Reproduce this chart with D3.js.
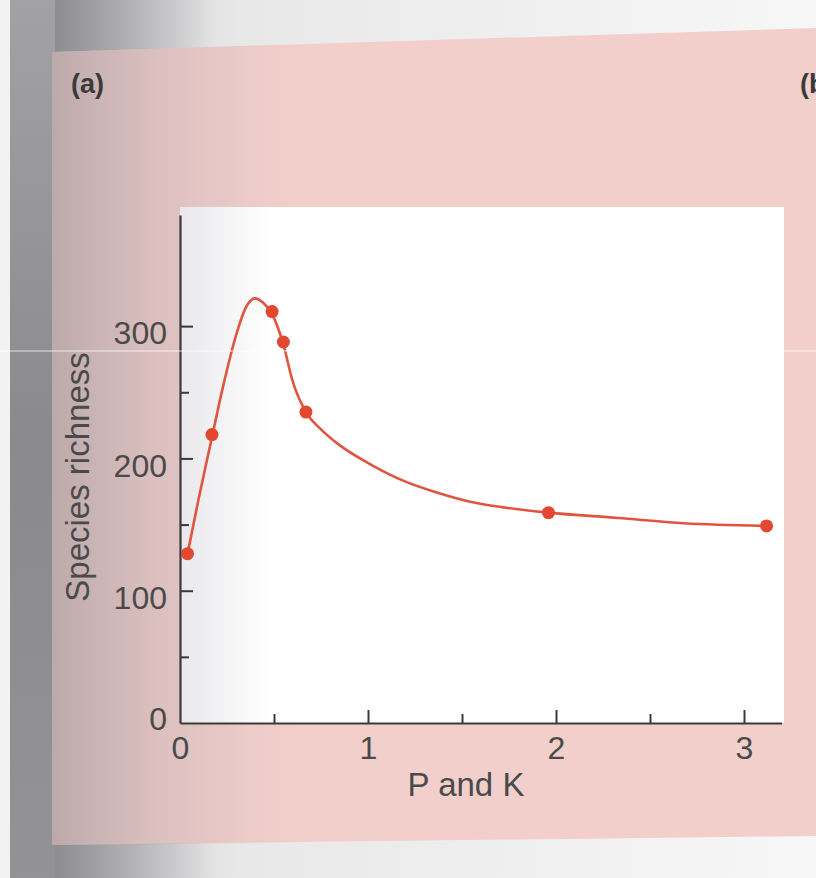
<!DOCTYPE html>
<html>
<head>
<meta charset="utf-8">
<script src="https://cdn.jsdelivr.net/npm/d3@7"></script>
<style>
  html, body { margin: 0; padding: 0; background: #ececec; }
  svg { display: block; }
  text { font-family: "Liberation Sans", Arial, Helvetica, sans-serif; }
</style>
</head>
<body>
<svg id="chart" width="816" height="878"></svg>
<script>
// Observed species richness against added P and K
const obsPK = [0.04, 0.17, 0.49, 0.55, 0.67, 1.96, 3.12];
const obsRichness = [128, 218, 311, 288, 235, 159, 149];

// Fitted response curve
const fitPK = [0.04, 0.10, 0.17, 0.23, 0.30, 0.35, 0.40, 0.44, 0.49, 0.55, 0.60, 0.67, 0.75, 0.84, 1.02, 1.19, 1.37, 1.55, 1.72, 1.96, 2.33, 2.68, 3.12];
const fitRichness = [128, 170, 216, 255, 294, 314, 321, 318, 309, 286, 258, 235, 222, 211, 195, 183, 174, 167, 163, 159, 155, 151, 149];

// Axis ticks
const xMajorTicks = [0, 1, 2, 3];
const xMinorTicks = [0.5, 1.5, 2.5];
const yMajorTicks = [0, 100, 200, 300];
const yMinorTicks = [50, 150, 250];

const svg = d3.select("#chart");
const W = 816, H = 878;

const defs = svg.append("defs");

// light surround outside the printed page
const bgGrad = defs.append("linearGradient").attr("id", "bgGrad")
  .attr("x1", 0).attr("y1", 0).attr("x2", 1).attr("y2", 0);
bgGrad.append("stop").attr("offset", "0%").attr("stop-color", "#c9c9cb");
bgGrad.append("stop").attr("offset", "30%").attr("stop-color", "#e8e8e9");
bgGrad.append("stop").attr("offset", "100%").attr("stop-color", "#f7f7f7");
svg.append("rect").attr("width", W).attr("height", H).attr("fill", "url(#bgGrad)");
svg.append("rect").attr("x", 0).attr("y", 0).attr("width", 10).attr("height", H).attr("fill", "#f2f2f2");

// dark binding band on the left
const bandGrad = defs.append("linearGradient").attr("id", "bandGrad")
  .attr("x1", 0).attr("y1", 0).attr("x2", 0).attr("y2", 1);
bandGrad.append("stop").attr("offset", "0%").attr("stop-color", "#a2a2a4");
bandGrad.append("stop").attr("offset", "50%").attr("stop-color", "#8a8a8d");
bandGrad.append("stop").attr("offset", "100%").attr("stop-color", "#939395");
svg.append("rect").attr("x", 10).attr("y", 0).attr("width", 45).attr("height", H)
  .attr("fill", "url(#bandGrad)");
const bandFade = defs.append("linearGradient").attr("id", "bandFade")
  .attr("x1", 0).attr("y1", 0).attr("x2", 1).attr("y2", 0);
bandFade.append("stop").attr("offset", "0%").attr("stop-color", "#8e8e91").attr("stop-opacity", 1);
bandFade.append("stop").attr("offset", "100%").attr("stop-color", "#8e8e91").attr("stop-opacity", 0);
svg.append("rect").attr("x", 55).attr("y", 0).attr("width", 160).attr("height", H)
  .attr("fill", "url(#bandFade)");

// pink page
svg.append("polygon")
  .attr("points", "52,52 816,28 816,836 52,845")
  .attr("fill", "#f3cfcb");

// shading of the page towards the binding
const shade = defs.append("linearGradient").attr("id", "shade")
  .attr("gradientUnits", "userSpaceOnUse")
  .attr("x1", 52).attr("y1", 0).attr("x2", 300).attr("y2", 0);
shade.append("stop").attr("offset", "0%").attr("stop-color", "#8f8a90").attr("stop-opacity", 0.55);
shade.append("stop").attr("offset", "45%").attr("stop-color", "#a49ca2").attr("stop-opacity", 0.28);
shade.append("stop").attr("offset", "100%").attr("stop-color", "#b0a8ae").attr("stop-opacity", 0);
svg.append("polygon")
  .attr("points", "52,52 300,44 300,843 52,845")
  .attr("fill", "url(#shade)");

const margin = { left: 180, top: 215, right: 782, bottom: 723 };

// white plotting panel
svg.append("rect")
  .attr("x", margin.left).attr("y", 207)
  .attr("width", 784 - margin.left).attr("height", margin.bottom - 207)
  .attr("fill", "#ffffff");

// softer tint over the left of the white panel
const panelTint = defs.append("linearGradient").attr("id", "panelTint")
  .attr("gradientUnits", "userSpaceOnUse")
  .attr("x1", 180).attr("y1", 0).attr("x2", 270).attr("y2", 0);
panelTint.append("stop").attr("offset", "0%").attr("stop-color", "#c8c4cc").attr("stop-opacity", 0.4);
panelTint.append("stop").attr("offset", "100%").attr("stop-color", "#c8c4cc").attr("stop-opacity", 0);
svg.append("rect").attr("x", 180).attr("y", 207).attr("width", 90).attr("height", margin.bottom - 207)
  .attr("fill", "url(#panelTint)");

// scales
const x = d3.scaleLinear().domain([0, 3.2]).range([margin.left, margin.left + 3.2 * 188]);
const y = d3.scaleLinear().domain([0, 384]).range([margin.bottom, margin.top]);

const axisColor = "#3a3a3a";
const labelColor = "#4a4a4a";

// y axis: minor ticks, then major ticks with labels
svg.append("g").attr("transform", `translate(${margin.left},0)`)
  .call(d3.axisLeft(y).tickValues(yMinorTicks).tickSize(-9).tickFormat(""))
  .call(g => g.select(".domain").remove())
  .call(g => g.selectAll("line").attr("stroke", axisColor).attr("stroke-width", 2));

const yAxis = svg.append("g").attr("transform", `translate(${margin.left},0)`)
  .call(d3.axisLeft(y).tickValues(yMajorTicks).tickSize(-13).tickPadding(13).tickSizeOuter(0));
yAxis.select(".domain").attr("stroke", axisColor).attr("stroke-width", 2.2);
yAxis.selectAll("line").attr("stroke", axisColor).attr("stroke-width", 2)
  .filter(d => d === 0).remove();
yAxis.selectAll("text").attr("font-size", 32).attr("fill", labelColor)
  .attr("dy", d => d === 0 ? "0.2em" : "0.55em");

// x axis: minor ticks, then major ticks with labels
svg.append("g").attr("transform", `translate(0,${margin.bottom})`)
  .call(d3.axisBottom(x).tickValues(xMinorTicks).tickSize(-9).tickFormat(""))
  .call(g => g.select(".domain").remove())
  .call(g => g.selectAll("line").attr("stroke", axisColor).attr("stroke-width", 2));

const xAxis = svg.append("g").attr("transform", `translate(0,${margin.bottom})`)
  .call(d3.axisBottom(x).tickValues(xMajorTicks).tickFormat(d3.format("d"))
    .tickSize(-13).tickPadding(13).tickSizeOuter(0));
xAxis.select(".domain").attr("stroke", axisColor).attr("stroke-width", 2.2);
xAxis.selectAll("line").attr("stroke", axisColor).attr("stroke-width", 2)
  .filter(d => d === 0).remove();
xAxis.selectAll("text").attr("font-size", 32).attr("fill", labelColor);

// fitted curve
const fitData = fitPK.map((v, i) => [v, fitRichness[i]]);
const line = d3.line()
  .x(d => x(d[0])).y(d => y(d[1]))
  .curve(d3.curveMonotoneX);
svg.append("path")
  .datum(fitData)
  .attr("d", line)
  .attr("fill", "none")
  .attr("stroke", "#e0553f")
  .attr("stroke-width", 2.6)
  .attr("stroke-linejoin", "round");

// observations
const obsData = obsPK.map((v, i) => [v, obsRichness[i]]);
svg.append("g").selectAll("circle")
  .data(obsData).join("circle")
  .attr("cx", d => x(d[0])).attr("cy", d => y(d[1]))
  .attr("r", 6.5)
  .attr("fill", "#e2472f");

// axis titles
svg.append("text")
  .attr("transform", "translate(89,477) rotate(-90)")
  .attr("text-anchor", "middle")
  .attr("font-size", 33)
  .attr("fill", labelColor)
  .text("Species richness");

svg.append("text")
  .attr("x", 466).attr("y", 796)
  .attr("text-anchor", "middle")
  .attr("font-size", 33)
  .attr("fill", labelColor)
  .text("P and K");

// panel letters
svg.append("text")
  .attr("x", 71).attr("y", 93)
  .attr("font-size", 27).attr("font-weight", "bold")
  .attr("fill", "#3a3a3a")
  .text("(a)");
svg.append("text")
  .attr("x", 800).attr("y", 93)
  .attr("font-size", 27).attr("font-weight", "bold")
  .attr("fill", "#3a3a3a")
  .text("(b)");

// faint scan streak
svg.append("line")
  .attr("x1", 0).attr("x2", W).attr("y1", 351).attr("y2", 351)
  .attr("stroke", "#ffffff").attr("stroke-opacity", 0.75).attr("stroke-width", 1);
</script>
</body>
</html>
